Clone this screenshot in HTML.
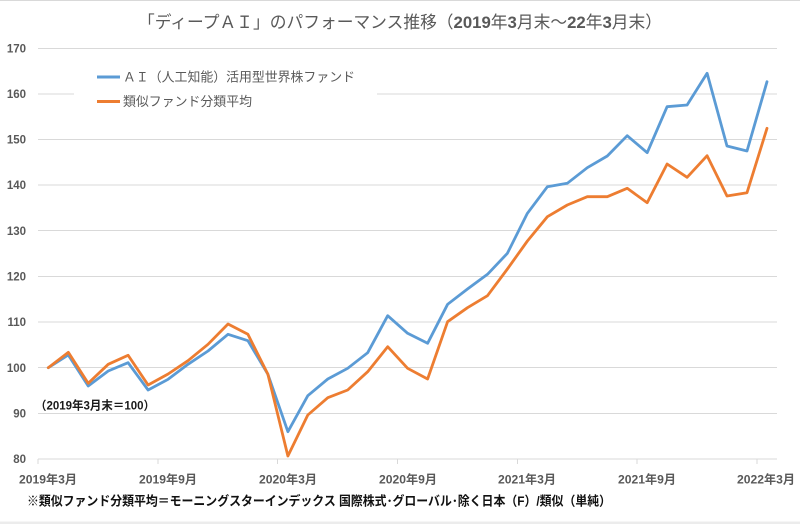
<!DOCTYPE html>
<html><head><meta charset="utf-8"><style>
html,body{margin:0;padding:0;background:#fff;}
svg{display:block;}
text{font-family:"Liberation Sans","Noto Sans CJK JP",sans-serif;}
</style></head><body>
<svg width="800" height="524" viewBox="0 0 800 524" xmlns="http://www.w3.org/2000/svg">
<rect x="0" y="0" width="800" height="524" fill="#fff"/>
<rect x="0" y="0" width="800" height="1" fill="#d9d9d9"/>
<rect x="0" y="521.5" width="800" height="2.5" fill="#ececec"/>
<text x="400" y="28" text-anchor="middle" font-size="17" fill="#595959" textLength="524" lengthAdjust="spacingAndGlyphs">「ディープＡＩ」のパフォーマンス推移（<tspan font-weight="bold">2019</tspan>年<tspan font-weight="bold">3</tspan>月末～<tspan font-weight="bold">22</tspan>年<tspan font-weight="bold">3</tspan>月末）</text>
<g stroke="#d9d9d9" stroke-width="1">
<line x1="38" y1="48.5" x2="777" y2="48.5"/>
<line x1="38" y1="94" x2="777" y2="94"/>
<line x1="38" y1="139.5" x2="777" y2="139.5"/>
<line x1="38" y1="185" x2="777" y2="185"/>
<line x1="38" y1="230.5" x2="777" y2="230.5"/>
<line x1="38" y1="276.5" x2="777" y2="276.5"/>
<line x1="38" y1="322" x2="777" y2="322"/>
<line x1="38" y1="367.5" x2="777" y2="367.5"/>
<line x1="38" y1="413.5" x2="777" y2="413.5"/>
<line x1="38" y1="459" x2="777" y2="459"/>
<line x1="38" y1="459" x2="38" y2="464"/>
<line x1="158" y1="459" x2="158" y2="464"/>
<line x1="277.5" y1="459" x2="277.5" y2="464"/>
<line x1="397.5" y1="459" x2="397.5" y2="464"/>
<line x1="517.5" y1="459" x2="517.5" y2="464"/>
<line x1="637" y1="459" x2="637" y2="464"/>
<line x1="757" y1="459" x2="757" y2="464"/>
</g>
<g font-size="11.5" font-weight="bold" fill="#595959" text-anchor="end">
<text x="26" y="52.5">170</text>
<text x="26" y="98">160</text>
<text x="26" y="143.5">150</text>
<text x="26" y="189">140</text>
<text x="26" y="235">130</text>
<text x="26" y="280.5">120</text>
<text x="26" y="326">110</text>
<text x="26" y="372">100</text>
<text x="26" y="417.5">90</text>
<text x="26" y="463">80</text>
</g>
<g font-size="12" font-weight="bold" fill="#595959" text-anchor="middle">
<text x="48" y="483.5" textLength="58" lengthAdjust="spacingAndGlyphs">2019年3月</text>
<text x="168" y="483.5" textLength="58" lengthAdjust="spacingAndGlyphs">2019年9月</text>
<text x="288" y="483.5" textLength="58" lengthAdjust="spacingAndGlyphs">2020年3月</text>
<text x="408" y="483.5" textLength="58" lengthAdjust="spacingAndGlyphs">2020年9月</text>
<text x="527" y="483.5" textLength="58" lengthAdjust="spacingAndGlyphs">2021年3月</text>
<text x="647" y="483.5" textLength="58" lengthAdjust="spacingAndGlyphs">2021年9月</text>
<text x="766" y="483.5" textLength="58" lengthAdjust="spacingAndGlyphs">2022年3月</text>
</g>
<rect x="74" y="58" width="303" height="58" fill="#fff"/>
<line x1="97" y1="77" x2="120" y2="77" stroke="#5b9bd5" stroke-width="3"/>
<line x1="97" y1="101.5" x2="120" y2="101.5" stroke="#ed7d31" stroke-width="3"/>
<text x="123" y="81.5" font-size="13" fill="#595959" textLength="232" lengthAdjust="spacingAndGlyphs">ＡＩ（人工知能）活用型世界株ファンド</text>
<text x="123" y="106" font-size="13" fill="#595959" textLength="129" lengthAdjust="spacingAndGlyphs">類似ファンド分類平均</text>
<polyline fill="none" stroke="#5b9bd5" stroke-width="2.8" stroke-linejoin="round" stroke-linecap="round" points="48.3,367.7 68.3,355 88.2,386 108.2,371 128.1,362.7 148.1,390 168.1,379.3 188,364.3 208,351 228,334.3 247.9,340.7 267.9,374.3 287.9,431.7 307.8,395.7 327.8,379 347.7,368.3 367.7,352.7 387.7,315.7 407.6,333.3 427.6,343.3 447.6,304.3 467.5,289 487.5,274.3 507.4,253.3 527.4,213.3 547.4,186.7 567.3,183.3 587.3,167.7 607.3,156 627.2,135.7 647.2,152.7 667.1,106.7 687.1,105 707.1,73.3 727,146 747,151 767,81.7"/>
<polyline fill="none" stroke="#ed7d31" stroke-width="2.8" stroke-linejoin="round" stroke-linecap="round" points="48.3,367.7 68.3,352.3 88.2,383.3 108.2,364.3 128.1,355.3 148.1,385 168.1,374 188,360.7 208,344.3 228,324 247.9,334.3 267.9,374.3 287.9,456 307.8,415 327.8,397.7 347.7,390 367.7,371.7 387.7,346.7 407.6,368.3 427.6,379 447.6,321.7 467.5,307.7 487.5,295.7 507.4,269 527.4,241 547.4,216.7 567.3,205 587.3,196.7 607.3,196.7 627.2,188.3 647.2,202.7 667.1,164 687.1,177.3 707.1,155.7 727,196 747,192.7 767,128.3"/>
<text x="35" y="409.5" font-size="12" font-weight="bold" fill="#1a1a1a" textLength="120" lengthAdjust="spacingAndGlyphs">（2019年3月末＝100）</text>
<text x="27" y="505.5" font-size="13" font-weight="bold" fill="#111" textLength="584" lengthAdjust="spacingAndGlyphs">※類似ファンド分類平均＝モーニングスターインデックス 国際株式･グローバル･除く日本（F）/類似（単純）</text>
</svg>
</body></html>
